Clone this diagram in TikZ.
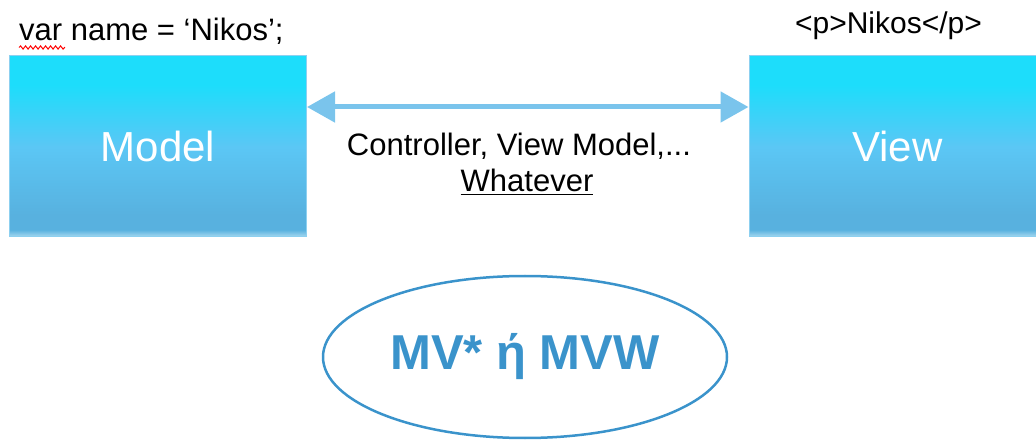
\documentclass[tikz,border=0pt]{standalone}
\usepackage{fontspec}
\setmainfont{Liberation Sans}
\usetikzlibrary{positioning,shapes.geometric,arrows.meta,decorations.pathmorphing}
\definecolor{boxtop}{HTML}{1DDDFB}
\definecolor{boxmid}{HTML}{5BC7F5}
\definecolor{boxlow}{HTML}{58B1DF}
\definecolor{boxedge}{HTML}{AADAF0}
\definecolor{boxline}{HTML}{8DD0F0}
\definecolor{arrowblue}{HTML}{7AC4EC}
\definecolor{ovalblue}{HTML}{3A93CB}
\pgfdeclareverticalshading{boxfade}{100bp}{color(0bp)=(boxedge); color(25bp)=(boxedge); color(27bp)=(boxlow); color(31bp)=(boxlow); color(50bp)=(boxmid); color(67bp)=(boxtop); color(75bp)=(boxtop); color(100bp)=(boxtop)}
\begin{document}
\begin{tikzpicture}[x=1pt, y=1pt,
  layer/.style={draw=boxline, line width=1pt, shade, shading=boxfade, minimum width=297pt, minimum height=181pt, inner sep=0pt, text=white, font=\fontsize{42}{50}\selectfont},
  code/.style={font=\fontsize{31}{37}\selectfont, inner sep=0pt},
  spell/.style={red, line width=1pt, decorate, decoration={snake, amplitude=1.6pt, segment length=5pt}},
  link/.style={draw=arrowblue, line width=5pt, {Triangle[length=28pt,width=30pt]}-{Triangle[length=28pt,width=30pt]}},
  oval/.style={ellipse, draw=ovalblue, line width=2.5pt, minimum width=404pt, minimum height=162pt, text=ovalblue, font=\fontsize{49}{58}\selectfont\bfseries}]
	\useasboundingbox (0,0) rectangle (1036,442);
	
	% Model / View
	\node[layer] (model) at (158,295.5) {\raisebox{-3pt}{Model}};
	\node[layer] (view) at (897.5,295.5) {\raisebox{-3pt}{View}};
	
	% code labels
	\node[code, anchor=base west] (varname) at ([xshift=10pt,yshift=15pt]model.north west) {var name = ‘Nikos’;};
	\draw[spell] ([yshift=-7pt]varname.base west) -- ([xshift=46pt,yshift=-7pt]varname.base west);
	\node[code, font=\fontsize{30}{36}\selectfont, anchor=base] (ptag) at ([xshift=-9pt,yshift=22pt]view.north) {<p>Nikos</p>};
	
	% binding
	\draw[link] ([yshift=39.5pt]model.east) -- ([yshift=39.5pt]view.west);
	\node[code, anchor=base] (ctrl) at (519,286) {Controller, View Model,...};
	\node[code, anchor=base] (whatever) at (527,250) {\underline{Whatever}};
	
	% MV*
	\node[oval] (mvw) at (525,85) {MV* ή MVW};
\end{tikzpicture}
\end{document}
